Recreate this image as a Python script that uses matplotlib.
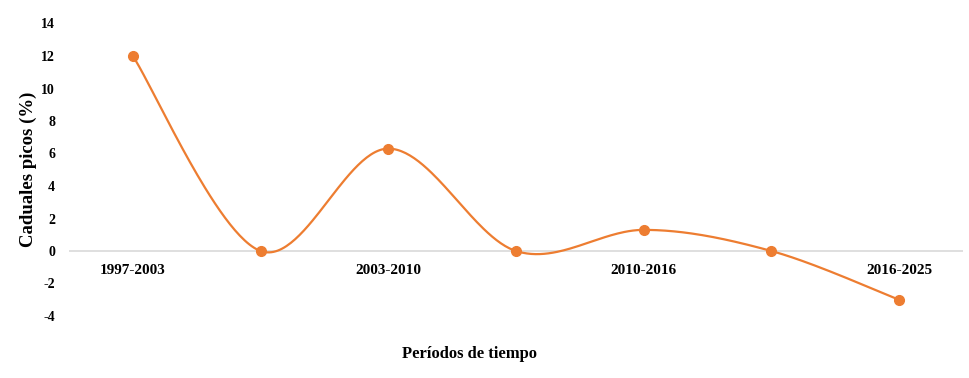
import numpy as np
import matplotlib.pyplot as plt

# data
periods = ["1997-2003", "", "2003-2010", "", "2010-2016", "", "2016-2025"]
values = [12.0, 0.0, 6.3, 0.0, 1.3, 0.0, -3.0]
y_ticks = [-4, -2, 0, 2, 4, 6, 8, 10, 12, 14]

ORANGE = "#ED7D31"


def smooth_curve(x, y, n=60):
    # Catmull-Rom style Bezier smoothing, like the spreadsheet "smoothed line"
    x = np.asarray(x, float)
    y = np.asarray(y, float)
    px, py = [], []
    for i in range(len(x) - 1):
        x0, y0 = (x[i - 1], y[i - 1]) if i > 0 else (x[i], y[i])
        x3, y3 = (x[i + 2], y[i + 2]) if i + 2 < len(x) else (x[i + 1], y[i + 1])
        x1, y1 = x[i], y[i]
        x2, y2 = x[i + 1], y[i + 1]
        c1x, c1y = x1 + (x2 - x0) / 6, y1 + (y2 - y0) / 6
        c2x, c2y = x2 - (x3 - x1) / 6, y2 - (y3 - y1) / 6
        t = np.linspace(0, 1, n)
        b0, b1, b2, b3 = (1 - t) ** 3, 3 * (1 - t) ** 2 * t, 3 * (1 - t) * t ** 2, t ** 3
        px.append(b0 * x1 + b1 * c1x + b2 * c2x + b3 * x2)
        py.append(b0 * y1 + b1 * c1y + b2 * c2y + b3 * y2)
    return np.concatenate(px), np.concatenate(py)


plt.rcParams["font.family"] = ["Liberation Serif", "DejaVu Serif"]
plt.rcParams["font.weight"] = "bold"

fig = plt.figure(figsize=(9.7, 3.78), dpi=100)
ax = fig.add_axes([69 / 970, 62 / 378, 894 / 970, 292.5 / 378])

xs = np.arange(len(values))
cx, cy = smooth_curve(xs, values)
ax.plot(cx, cy, color=ORANGE, lw=1.6, zorder=3)
ax.plot(xs, values, "o", color=ORANGE, ms=7, zorder=4)

ax.axhline(0, color="#d9d9d9", lw=1.2, zorder=1)

ax.set_xlim(-0.5, len(values) - 0.5)
ax.set_ylim(-4, 14)
ax.set_yticks(y_ticks)
ax.set_yticklabels([str(t) for t in y_ticks], fontsize=10, fontweight="bold")
ax.tick_params(axis="y", length=0, pad=10)
ax.set_xticks([])
for s in ax.spines.values():
    s.set_visible(False)

for i, lab in enumerate(periods):
    if lab:
        ax.annotate(lab, (i, 0), xytext=(0, -14), textcoords="offset points",
                    ha="center", va="center", fontsize=11, fontweight="bold")

ax.set_ylabel("Caduales picos (%)", fontsize=13.5, fontweight="bold", labelpad=3)
fig.text(470 / 970, 1 - 354 / 378, "Períodos de tiempo", ha="center", va="center",
         fontsize=12, fontweight="bold")

fig.savefig("out.png", dpi=100)
